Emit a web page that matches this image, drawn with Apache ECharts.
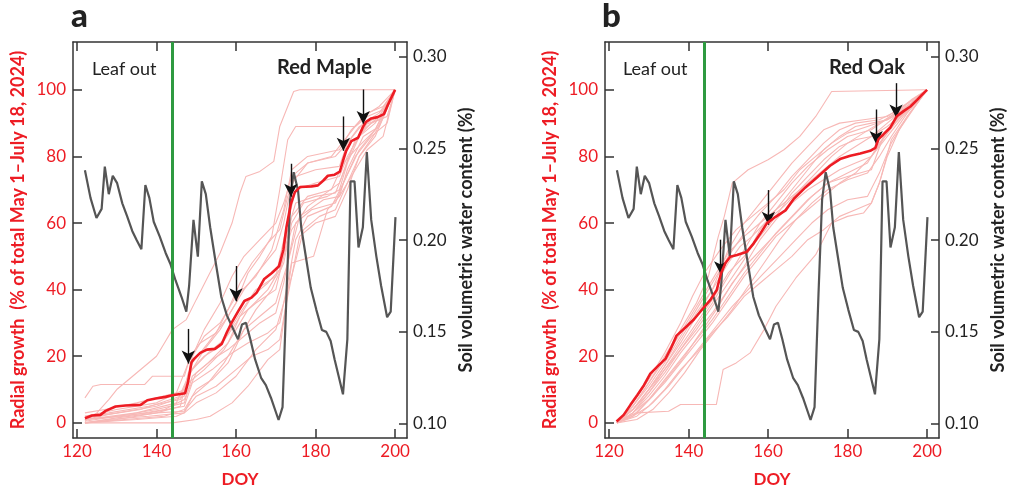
<!DOCTYPE html>
<html>
<head>
<meta charset="utf-8">
<script src="https://cdn.jsdelivr.net/npm/echarts@6/dist/echarts.min.js"></script>
<style>html,body{margin:0;padding:0;background:#fff}#chart{width:1011px;height:493px}</style>
</head>
<body>
<div id="chart"></div>
<script>
// ---------- DATA ----------
const doyTicks = [120, 140, 160, 180, 200];
const growthTicks = [0, 20, 40, 60, 80, 100];
const soilTicks = [0.10, 0.15, 0.20, 0.25, 0.30];
const leafOutDOY = 144;

// soil volumetric water content [DOY, value]
const soilMoisture = [[122.0,0.238],[123.4,0.223],[124.9,0.212],[126.2,0.217],[127.0,0.240],[128.0,0.225],[129.0,0.235],[130.1,0.231],[131.4,0.220],[132.6,0.213],[133.9,0.205],[135.0,0.200],[136.2,0.195],[137.2,0.230],[138.2,0.223],[139.3,0.210],[140.8,0.202],[142.3,0.193],[143.5,0.187],[144.8,0.178],[146.3,0.169],[147.5,0.161],[148.2,0.175],[149.3,0.211],[150.4,0.191],[151.4,0.232],[152.4,0.225],[153.5,0.207],[154.8,0.189],[156.3,0.169],[157.7,0.159],[159.4,0.151],[160.5,0.146],[161.5,0.154],[162.5,0.155],[163.6,0.146],[164.8,0.135],[166.3,0.125],[167.5,0.121],[168.8,0.114],[170.7,0.102],[171.7,0.109],[172.7,0.171],[173.6,0.222],[174.5,0.237],[175.6,0.227],[176.4,0.207],[177.7,0.189],[178.8,0.174],[180.2,0.162],[181.6,0.151],[182.7,0.150],[183.8,0.145],[184.8,0.135],[185.8,0.126],[186.9,0.116],[188.0,0.146],[188.8,0.232],[189.8,0.232],[190.8,0.196],[191.9,0.207],[192.9,0.248],[194.0,0.211],[195.3,0.191],[196.5,0.175],[198.0,0.158],[198.9,0.161],[200.1,0.2125]];

// Red Maple mean radial growth [DOY, %]
const mapleMean = [[122,1.4],[123.8,2.2],[125.9,2.4],[127.2,3.6],[129.7,4.9],[132.2,5.2],[136,5.4],[137.7,6.8],[139.8,7.3],[142.3,7.8],[144,8.3],[147.2,8.9],[147.9,12],[148.8,18.2],[149.5,19.3],[151,21],[152.7,22],[154.7,22.2],[156.4,23.7],[157.7,27.2],[158.9,30.1],[160.6,33.6],[162.1,36.6],[163.9,37.6],[165.2,39.1],[167.1,43.2],[169,45],[170.8,47],[171.9,51.9],[172.7,58.9],[173.8,65.8],[174.8,69.3],[176.1,70.8],[179,71],[180.6,71.3],[181.9,72.7],[183.1,74.2],[184.8,74.5],[186.1,75.4],[186.9,78.7],[187.7,81.7],[189,84.6],[190.7,85.6],[191.9,88.8],[192.7,90.4],[194,91.4],[195.6,91.8],[197.2,92.7],[198.2,95.5],[200,100]];

// Red Maple individual trees
const mapleTrees = [
 [[122,0.5],[125,3],[128,7],[130,10],[134,14],[137,17],[140,20],[142,24],[144,28],[147.5,31],[150,37],[153,44],[156,51],[159,60],[161,69],[162.5,74],[166,75.5],[169.5,78.5],[171,89],[174.5,99.5],[176,100],[200,100]],
 [[122,7.5],[124,11],[126,11.5],[137,11.5],[139,14],[147,14],[148.5,20],[151,24],[155,27],[158,34],[161,42],[164,48],[168,54],[171,58],[173,68],[175,74],[180,76],[186,77],[188,84],[191,89],[196,91],[200,100]],
 [[122,0],[130,1],[140,3],[146,5],[148,15],[152,20],[156,23],[160,30],[164,38],[168,42],[171,46],[173,58],[175,66],[180,68],[185,69],[187,75],[190,85],[194,90],[198,92],[200,100]],
 [[122,1],[130,2],[140,4],[147,6],[149,14],[153,18],[158,24],[161,32],[165,36],[170,40],[172,50],[174,62],[178,68],[184,70],[187,78],[190,82],[195,88],[200,100]],
 [[122,0],[132,1],[142,2],[147,4],[150,10],[154,13],[158,18],[162,28],[166,32],[170,36],[173,48],[176,62],[182,67],[186,68],[188,76],[192,86],[196,89],[200,100]],
 [[122,2],[128,3],[138,5],[146,7],[148,12],[152,16],[157,22],[160,28],[163,34],[168,40],[171,46],[174,58],[178,65],[186,72],[189,82],[193,90],[197,93],[200,100]],
 [[122,0],[144,0],[150,1],[153.5,2],[159,6],[163,11],[168,19],[171,22],[172.5,35],[174,48],[179.5,50],[181,56],[183,64],[186,68],[189,74],[193,82],[197,86],[200,100]],
 [[122,1],[135,3],[145,6],[148,14],[152,22],[156,28],[160,36],[163,45],[166,50],[169,56],[171,70],[173,85],[175,89],[190,89],[193,92],[197,94],[200,100]],
 [[122,0.5],[130,2],[138,3],[147,5],[149,12],[154,16],[159,21],[163,24],[168,27],[171,30],[173,42],[175,55],[178,62],[184,65],[187,72],[190,80],[194,86],[198,90],[200,100]],
 [[122,3],[127,4],[135,6],[145,9],[148,18],[152,26],[156,30],[160,38],[165,44],[169,52],[172,64],[174,76],[178,80],[186,82],[189,88],[193,93],[197,95],[200,100]],
 [[122,1],[128,2.5],[136,4],[146,8],[149,16],[153,21],[157,25],[161,33],[165,40],[170,44],[172,55],[175,70],[180,72],[186,74],[188,80],[192,88],[196,92],[200,100]],
 [[122,0],[130,1.5],[140,3],[147,3.5],[150,8],[155,11],[160,16],[164,20],[168,22],[171,25],[173,38],[176,56],[180,60],[185,62],[188,70],[191,80],[195,86],[200,100]],
 [[122,2],[130,4],[140,6],[147,10],[149,18],[153,24],[158,32],[162,40],[166,46],[170,52],[172,60],[174,72],[178,78],[184,80],[188,86],[192,92],[196,95],[200,100]],
 [[122,1],[132,2],[142,4],[147,7],[150,15],[154,19],[158,22],[162,26],[166,30],[170,33],[172,42],[175,60],[179,64],[185,66],[187,72],[191,82],[195,88],[200,100]],
 [[122,0],[135,1],[145,2],[147,3],[149,8],[153,12],[157,18],[161,26],[165,34],[169,40],[172,48],[174,60],[177,66],[183,68],[186,70],[188,78],[191,86],[195,90],[200,100]],
 [[122,1.5],[130,3],[140,5],[147,8],[149,20],[152,28],[156,36],[159,44],[162,50],[166,55],[170,60],[172,66],[174,74],[178,78],[185,80],[188,84],[192,90],[196,93],[200,100]],
 [[122,0],[128,1],[138,2],[147,3],[150,6],[155,9],[160,14],[165,22],[170,28],[172,36],[174,44],[177,58],[181,62],[185,64],[188,72],[191,80],[195,87],[200,100]]
];

// Red Oak mean radial growth [DOY, %]
const oakMean = [[121.9,0.4],[123.7,2.4],[125.4,5.4],[127.1,8.3],[128.8,11.3],[130.4,14.8],[132.1,16.8],[134.2,19.2],[135.5,22.2],[137,26.2],[139.3,28.7],[141.4,31.1],[143.9,34.7],[145.6,37.1],[147.1,39.9],[148.2,45],[149.3,48],[150.5,49.9],[152.2,50.4],[154.7,51.4],[156.4,53.9],[158.1,56.9],[159.7,59.9],[161.8,61.8],[164.4,63.8],[166.5,67.3],[169.4,70.7],[172.3,73.7],[175.6,77.2],[178.1,79.2],[180.7,80.2],[183.2,80.9],[185.7,81.7],[187,82.6],[187.8,85.2],[189,86.6],[190.7,88.6],[192.4,92.1],[194.1,93.6],[195.8,95],[197.5,97],[198.7,98.5],[200,100]];

// Red Oak individual trees
const oakTrees = [
 [[122,0],[126,5],[130,12],[134,20],[138,28],[142,36],[145,44],[147.5,56],[149,62],[151,72],[155,76],[160,79],[164,82],[168,86],[172,92],[176,99.5],[200,100]],
 [[122,0],[126,4],[130,10],[134,17],[138,25],[142,33],[146,40],[150,52],[154,60],[158,66],[162,72],[166,78],[170,83],[174,88],[178,90],[184,91],[190,92],[195,96],[200,100]],
 [[122,0],[126,3],[130,9],[134,15],[138,22],[142,29],[146,36],[150,44],[154,52],[158,60],[162,66],[166,72],[170,77],[175,82],[180,86],[186,88],[192,93],[196,97],[200,100]],
 [[122,0],[126,2],[130,7],[134,13],[138,19],[142,25],[146,31],[150,38],[154,45],[158,51],[162,57],[166,62],[170,67],[175,72],[180,75],[185,78],[188,84],[192,90],[196,95],[200,100]],
 [[122,0],[127,3],[131,8],[135,14],[139,20],[143,27],[147,34],[151,42],[155,48],[159,53],[163,58],[167,63],[171,68],[175,72],[180,74],[186,76],[189,86],[193,92],[197,96],[200,100]],
 [[122,0],[126,2],[130,5],[134,10],[138,16],[142,21],[146,27],[150,32],[154,38],[158,42],[162,46],[166,50],[170,55],[174,58],[178,62],[182,64],[186,66],[188,72],[190,80],[193,88],[197,95],[200,100]],
 [[122,0],[125,2],[127,3],[135,3.5],[138,5.5],[147,5.5],[148.7,16],[152,18],[155.5,21],[159,28],[162,35],[167,43.5],[172,50.5],[176,60],[180,62],[184,63],[186,66],[188,72],[191,85],[195,92],[200,100]],
 [[122,0],[126,5],[130,11],[134,18],[138,26],[142,34],[146,42],[150,50],[154,57],[158,63],[162,68],[166,74],[170,79],[174,84],[178,88],[182,90],[188,91],[193,94],[200,100]],
 [[122,0],[126,3],[130,8],[134,14],[138,21],[142,27],[146,33],[150,40],[154,47],[158,55],[162,61],[166,66],[170,70],[174,73],[178,76],[182,78],[186,80],[190,87],[194,93],[200,100]],
 [[122,0],[126,4],[130,9],[134,16],[138,23],[142,30],[146,37],[150,45],[154,50],[158,56],[162,62],[166,69],[170,74],[174,79],[178,83],[182,85],[186,86],[190,90],[195,95],[200,100]],
 [[122,0],[126,6],[130,13],[134,21],[138,30],[141,38],[144,45],[148,52],[152,58],[156,62],[160,66],[164,70],[168,76],[172,80],[176,84],[180,87],[185,89],[190,91],[195,95],[200,100]],
 [[122,0],[127,2],[131,6],[135,11],[139,17],[143,23],[147,29],[151,35],[155,40],[159,45],[163,50],[167,55],[171,60],[175,64],[180,67],[185,68],[188,75],[191,84],[195,92],[200,100]],
 [[122,0],[126,4],[130,10],[134,17],[138,24],[142,32],[146,40],[150,48],[153,53],[156,56],[160,61],[164,65],[168,70],[172,75],[176,80],[180,84],[184,87],[188,90],[192,93],[196,96],[200,100]],
 [[122,0],[126,3],[130,7],[134,12],[138,18],[142,24],[146,30],[150,37],[154,44],[158,50],[162,56],[166,60],[170,64],[174,68],[178,72],[182,75],[186,80],[190,86],[194,92],[200,100]],
 [[122,0],[126,4],[130,10],[134,16],[138,22],[142,28],[146,35],[150,42],[154,49],[158,58],[162,64],[166,70],[170,76],[174,82],[178,86],[182,89],[186,90],[190,91],[195,94],[200,100]],
 [[122,0],[126,5],[130,12],[134,19],[138,27],[142,35],[146,43],[150,51],[154,56],[158,60],[162,64],[166,68],[170,72],[174,76],[178,80],[182,83],[186,86],[190,89],[195,94],[200,100]],
 [[122,0],[127,1],[131,4],[135,9],[139,15],[143,22],[147,28],[151,34],[155,41],[159,48],[163,55],[167,61],[171,66],[175,70],[180,73],[185,75],[188,80],[191,86],[195,93],[200,100]]
];

// arrows: [DOY, start value, tip value]
const mapleArrows = [[148,28.2,17.8],[160,47.1,36.5],[173.8,77.8,67.9],[187,92,81.7],[192,100.1,89.7]];
const oakArrows = [[148.1,55,44.6],[160.1,69.9,59.5],[187.2,94.1,83.7],[192.2,102,91.7]];

// ---------- CHART ----------
const RED = '#ED1C24', PINK = 'rgb(247,184,182)', GRAY = '#555555', AX = '#333333', GREEN = '#2E9A40';
const FONT = 'Lato';
const chart = echarts.init(document.getElementById('chart'), null, {renderer: 'canvas'});

function xBottom(g) {
  return {type: 'value', gridIndex: g, position: 'bottom', min: 119, max: 203,
    axisLine: {onZero: false, lineStyle: {color: AX, width: 1.5}},
    axisTick: {inside: true, length: 9, customValues: doyTicks, lineStyle: {color: AX, width: 1.5}},
    axisLabel: {customValues: doyTicks, color: RED, fontSize: 17, fontFamily: FONT, margin: 5},
    splitLine: {show: false},
    name: 'DOY', nameLocation: 'middle', nameGap: 33,
    nameTextStyle: {color: RED, fontSize: 17, fontWeight: 'bold', fontFamily: FONT}};
}
function xTop(g) {
  return {type: 'value', gridIndex: g, position: 'top', min: 119, max: 203,
    axisLine: {onZero: false, lineStyle: {color: AX, width: 1.5}},
    axisTick: {inside: true, length: 9, customValues: doyTicks, lineStyle: {color: AX, width: 1.5}},
    axisLabel: {show: false}, splitLine: {show: false}};
}
function yLeft(g) {
  return {type: 'value', gridIndex: g, position: 'left', min: -4.55, max: 114.36,
    axisLine: {show: true, onZero: false, lineStyle: {color: AX, width: 1.5}},
    axisTick: {show: true, inside: true, length: 9, customValues: growthTicks, lineStyle: {color: AX, width: 1.5}},
    axisLabel: {customValues: growthTicks, color: RED, fontSize: 17, fontFamily: FONT, margin: 7},
    splitLine: {show: false},
    name: 'Radial growth  (% of total May 1\u2013July 18, 2024)', nameLocation: 'middle', nameGap: 46, nameRotate: 90,
    nameTextStyle: {color: RED, fontSize: 18, fontWeight: 'bold', fontFamily: FONT}};
}
function yRight(g) {
  return {type: 'value', gridIndex: g, position: 'right', min: 0.0922, max: 0.3079,
    axisLine: {show: true, onZero: false, lineStyle: {color: AX, width: 1.5}},
    axisTick: {show: true, inside: true, length: 8, customValues: soilTicks, lineStyle: {color: AX, width: 1.5}},
    axisLabel: {customValues: soilTicks, color: '#222', fontSize: 17, fontFamily: FONT, margin: 6,
      formatter: v => v.toFixed(2)},
    splitLine: {show: false},
    name: 'Soil volumetric water content (%)', nameLocation: 'middle', nameGap: 50, nameRotate: 90,
    nameTextStyle: {color: '#222', fontSize: 18, fontWeight: 'bold', fontFamily: FONT}};
}

const series = [];
function addPanel(g, trees, mean, arrows) {
  const xi = g * 2, yl = g * 2, yr = g * 2 + 1;
  trees.forEach(t => series.push({type: 'line', xAxisIndex: xi, yAxisIndex: yl, data: t, showSymbol: false,
    silent: true, z: 2, lineStyle: {color: PINK, width: 1.1}}));
  // leaf-out line
  series.push({type: 'line', xAxisIndex: xi, yAxisIndex: yl, data: [], z: 3, silent: true,
    markLine: {silent: true, symbol: ['none', 'none'], label: {show: false},
      lineStyle: {color: GREEN, width: 3, type: 'solid'}, data: [{xAxis: leafOutDOY}]}});
  series.push({type: 'line', xAxisIndex: xi, yAxisIndex: yr, data: soilMoisture, showSymbol: false,
    silent: true, z: 4, lineStyle: {color: GRAY, width: 2.2}});
  series.push({type: 'line', xAxisIndex: xi, yAxisIndex: yl, data: mean, showSymbol: false,
    silent: true, z: 5, lineStyle: {color: RED, width: 2.6},
    markLine: {silent: true, symbol: ['none', 'arrow'], symbolSize: [10, 13], label: {show: false},
      lineStyle: {color: '#111', width: 1.4, type: 'solid'},
      data: arrows.map(a => [{coord: [a[0], a[1]]}, {coord: [a[0], a[2]]}])}});
}
addPanel(0, mapleTrees, mapleMean, mapleArrows);
addPanel(1, oakTrees, oakMean, oakArrows);

const txt = (x, y, s, size, weight) => ({type: 'text', left: x, top: y, z: 10,
  style: {text: s, fill: '#222', font: weight + ' ' + size + 'px ' + FONT}});

chart.setOption({
  animation: false,
  backgroundColor: '#fff',
  grid: [{left: 73, top: 42, width: 334, height: 400}, {left: 605, top: 42, width: 334, height: 400}],
  xAxis: [xBottom(0), xTop(0), xBottom(1), xTop(1)],
  yAxis: [yLeft(0), yRight(0), yLeft(1), yRight(1)],
  series: series,
  graphic: [
    txt(71, 0, 'a', 33, '900'),
    txt(602, 0, 'b', 33, '900'),
    txt(92, 60, 'Leaf out', 18, 'normal'),
    txt(623, 60, 'Leaf out', 18, 'normal'),
    txt(277, 58, 'Red Maple', 20, 'bold'),
    txt(829, 58, 'Red Oak', 20, 'bold')
  ]
});
</script>
</body>
</html>
